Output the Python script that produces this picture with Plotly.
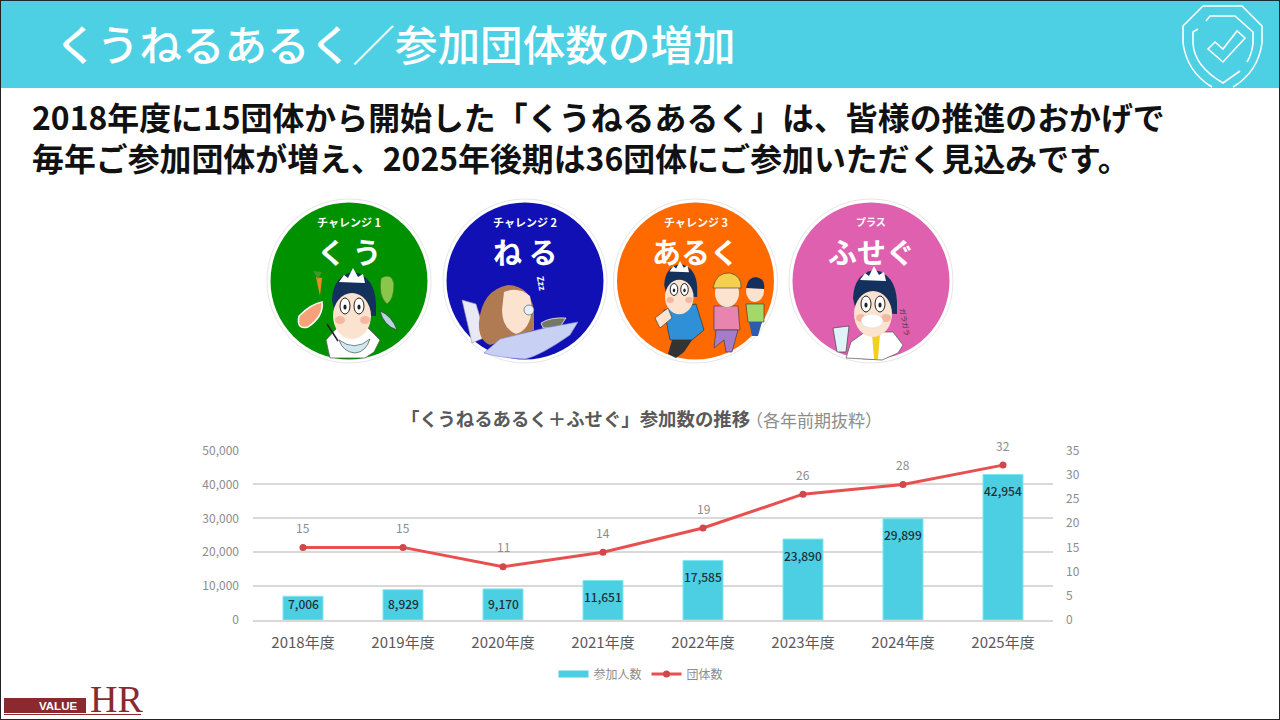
import re
import plotly.graph_objects as go

# ---------- data ----------
years = ["2018年度", "2019年度", "2020年度", "2021年度", "2022年度", "2023年度", "2024年度", "2025年度"]
participants = [7006, 8929, 9170, 11651, 17585, 23890, 29899, 42954]
groups = [15, 15, 11, 14, 19, 26, 28, 32]
left_ticks = [0, 10000, 20000, 30000, 40000, 50000]
right_ticks = [0, 5, 10, 15, 20, 25, 30, 35]

# ---------- style ----------
JP = "Noto Sans CJK JP"
W, H = 1280, 720
CYAN = "#4dcfe3"
RED = "#e8504f"
MARK = "#d0484a"
GRID = "#d9d9d9"
GREY = "#8c8c8c"
DARK = "#595959"
bar_label_drop = [7, 14, 15, 16, 16, 16, 16, 16]


def px(x):
    return x / W


def py(y):
    return 1 - y / H


def conv(path):
    toks = re.findall(r"[A-Za-z]|-?\d+\.?\d*", path)
    out, i = [], 0
    for t in toks:
        if t.isalpha():
            out.append(t)
            i = 0
        else:
            v = float(t)
            out.append(f"{px(v) if i % 2 == 0 else py(v):.5f}")
            i += 1
    return " ".join(out)


shapes = []
notes = []


def P(d, fill=None, line=None, w=1):
    s = dict(type="path", xref="paper", yref="paper", path=conv(d), layer="below",
             line=dict(color=line or "rgba(0,0,0,0)", width=w if line else 0))
    if fill:
        s["fillcolor"] = fill
    shapes.append(s)


def E(cx, cy, rx, ry, fill, line=None, w=1):
    shapes.append(dict(type="circle", xref="paper", yref="paper", layer="below",
                       x0=px(cx - rx), x1=px(cx + rx), y0=py(cy + ry), y1=py(cy - ry),
                       fillcolor=fill, line=dict(color=line or "rgba(0,0,0,0)", width=w if line else 0)))


def R(x0, y0, x1, y1, fill, line=None, w=1):
    shapes.append(dict(type="rect", xref="paper", yref="paper", layer="below",
                       x0=px(x0), x1=px(x1), y0=py(y1), y1=py(y0),
                       fillcolor=fill, line=dict(color=line or "rgba(0,0,0,0)", width=w if line else 0)))


def T(x, y, text, size, color, anchor="left", bold=False, font=JP, angle=0, weight=None, height=None, align=None):
    f = dict(family=font, size=size, color=color)
    if weight:
        f["weight"] = weight
    n = dict(xref="paper", yref="paper", x=px(x), y=py(y), xanchor=anchor, yanchor="middle",
             text=f"<b>{text}</b>" if bold else text, showarrow=False, textangle=angle, font=f)
    if height:
        n["height"] = height
    if align:
        n["align"] = align
    notes.append(n)


# header
R(0, 0, 1280, 88, "#4dd0e3")
T(53, 42, "くうねるあるく／参加団体数の増加", 42.6, "white", weight=500)
# shield
P("M1203 6 L1242 6 L1262 26 L1262 43 Q1258 72 1233 87", None, "white", 1.6)
P("M1203 6 L1183 26 L1183 43 Q1187 72 1212 87", None, "white", 1.6)
P("M1206 21 L1210 16 L1235 16 L1253 32 L1253 43 Q1252 54 1247 62", None, "white", 1.6)
P("M1198 29 L1193 32 L1193 43 Q1194 66 1223 83 L1240 71", None, "white", 1.6)
P("M1208 49 L1215 42 L1223 49 L1237 31 L1245 38 L1223 62 Z", None, "white", 1.6)

# body text
T(30, 136,
  "2018年度に15団体から開始した「くうねるあるく」は、皆様の推進のおかげで<br>"
  "毎年ご参加団体が増え、2025年後期は36団体にご参加いただく見込みです。",
  31.9, "#111111", bold=True, align="left")

# badges
SKIN = "#fbe3cf"
NAVY = "#14305c"
for cx, col in [(349, "#009100"), (525, "#1010b4"), (695.5, "#ff6a00"), (871, "#e060b0")]:
    E(cx, 281, 82, 82, "white", "#e6e6e6", 1)
    E(cx, 281, 78.5, 78.5, col)


def man(cx, cy, s=1.0):
    def q(dx, dy):
        return f"{cx + dx * s:.1f} {cy + dy * s:.1f}"
    P(f"M{q(-21,-8)} Q{q(-20,-32)} {q(0,-36)} Q{q(22,-32)} {q(23,-4)} L{q(23,8)} L{q(-18,6)} Z", NAVY)
    P(f"M{q(-14,-26)} L{q(-9,-33)} L{q(-5,-30)} L{q(0,-40)} L{q(5,-31)} L{q(10,-34)} L{q(12,-25)} Z", "white")
    E(cx - 1 * s, cy + 8 * s, 19 * s, 23 * s, SKIN)
    E(cx - 8 * s, cy - 2 * s, 5 * s, 8 * s, "white", "#222222", 1)
    E(cx + 6 * s, cy - 2 * s, 5 * s, 8 * s, "white", "#222222", 1)
    E(cx - 8 * s, cy - 1 * s, 1.6 * s, 2.5 * s, "#222222")
    E(cx + 6 * s, cy - 1 * s, 1.6 * s, 2.5 * s, "#222222")
    E(cx - 13 * s, cy + 12 * s, 5 * s, 4 * s, "#f6b7a0")
    E(cx + 12 * s, cy + 12 * s, 5 * s, 4 * s, "#f6b7a0")


# green badge: kuu
T(349, 222, "チャレンジ 1", 11, "white", "center", True)
T(349, 251, "く う", 29, "white", "center", True)
P("M330 358 L326 340 L337 328 L368 328 L380 340 L374 352 L365 358 Z", "white", "#555555", 0.7)
man(353, 308)
P("M316 277 L322 278 L320 296 Z", "#f08a24")
P("M313 271 L318 279 L322 272 Z", "#3a9a2a")
P("M381 278 Q392 272 394 284 Q394 300 387 304 Q378 296 381 278 Z", "#8ac64a", "#2f7d2a", 0.7)
P("M299 316 Q311 304 322 302 Q324 316 308 327 Q296 330 299 316 Z", "#f5a27a", "white", 1.5)
P("M380 311 Q392 316 397 330 Q384 326 380 311 Z", "#b8d5e3", "#333333", 0.6)
P("M339 340 Q355 352 370 339 Q366 352 355 353 Q343 352 339 340 Z", "#cfe8f0", "#333333", 0.6)
P("M327 324 L338 341", None, "#222222", 1.5)

# blue badge: neru
T(525, 222, "チャレンジ 2", 11, "white", "center", True)
T(525, 251, "ね る", 29, "white", "center", True)
P("M462 300 L476 304 L486 337 L472 343 Z", "#e8e8f6", "#999999", 0.6)
P("M479 322 Q482 290 508 285 Q530 286 534 310 L534 330 L490 345 Q478 340 479 322 Z", "#b07a52")
P("M504 292 Q518 286 530 296 L532 309 Q530 330 516 334 Q502 328 502 310 Z", SKIN)
T(541, 283, "Zzz", 9, "white", "center", True, angle=80)
E(529, 310, 5, 5, "#e8f0f8", "#444444", 0.6)
P("M541 323 Q550 317 566 318 L560 327 L543 328 Z", "#777766", "white", 0.7)
P("M484 353 L500 339 L545 328 L578 322 L570 335 Q540 356 525 359 Q500 358 484 353 Z", "#c8d0f4", "#7c88d8", 0.6)

# orange badge: aruku
T(695.5, 222, "チャレンジ 3", 11, "white", "center", True)
T(695.5, 251, "あるく", 29, "white", "center", True)
P("M664 310 L696 304 L704 330 L692 340 L670 340 Z", "#2f90d8", "#222222", 0.6)
P("M672 340 L692 340 L684 352 L676 358 L668 354 Z", "#333333")
P("M655 318 L668 308 L672 318 L660 328 Z", SKIN, "#333333", 0.6)
man(680, 291, 0.75)
P("M714 306 L738 306 L740 330 L714 330 Z", "#e884ad", "#333333", 0.6)
P("M716 330 L738 330 L732 352 L726 352 L724 340 L714 348 Z", "#a47cc8", "#333333", 0.6)
E(727, 293, 12, 14, SKIN)
P("M713 288 Q716 272 730 273 Q742 276 741 288 Z", "#f4d04e", "#333333", 0.6)
P("M746 304 L764 304 L764 322 L748 322 Z", "#a4d868", "#333333", 0.6)
P("M749 322 L762 322 L758 336 L752 336 Z", "#2c5db0")
E(755, 291, 9, 11, SKIN)
P("M746 288 Q748 277 756 277 Q766 279 764 289 Z", NAVY)

# pink badge: fuseg
T(871, 221, "プラス", 10, "white", "center", True)
T(871, 251, "ふせぐ", 29, "white", "center", True)
P("M846 358 L851 342 L865 332 L893 332 L903 345 L898 353 L882 360 Z", "white", "#555555", 0.7)
P("M872 334 L880 334 L878 359 L874 359 Z", "#f0d020")
man(874, 306)
E(872, 321, 11, 7, "white", "#dddddd", 0.7)
P("M833 328 L849 326 L846 352 L837 352 Z", "#dff3f8", "#444444", 0.7)
T(905, 322, "ガラガラ", 7, "#333333", "center", angle=80)

# chart titles
T(575, 418, "「くうねるあるく＋ふせぐ」参加数の推移", 18.4, DARK, "center", True)
T(814, 419, "（各年前期抜粋）", 17, GREY, "center")

# logo
R(4, 698, 86, 713, "#8b2a2e")
T(79, 706, "VALUE", 11.5, "white", "right", True, font="Liberation Sans")
T(88, 699, "HR", 38, "#8b2a2e", font="Liberation Serif", height=40)
P("M4 714.5 L141 714.5", None, "#8b2a2e", 1)

# frame
P("M0 0 L1280 0", None, "#1a2a30", 2)
P("M0 0 L0 720", None, "#222222", 2)
P("M1280 0 L1280 720", None, "#222222", 2)
P("M0 720 L1280 720", None, "#222222", 2)

# ---------- chart ----------
fig = go.Figure()
fig.add_trace(go.Bar(x=years, y=participants, name="参加人数", width=0.4, showlegend=False,
                     marker=dict(color=CYAN, line=dict(color="#7fe6ee", width=1)), yaxis="y"))
fig.add_trace(go.Scatter(x=[None], y=[None], name="参加人数", mode="lines", yaxis="y",
                         line=dict(color=CYAN, width=7)))
fig.add_trace(go.Scatter(x=years, y=groups, name="団体数", mode="lines+markers", yaxis="y2",
                         line=dict(color=RED, width=3), marker=dict(color=MARK, size=7)))

for yr, v, d in zip(years, participants, bar_label_drop):
    notes.append(dict(x=yr, y=v, xref="x", yref="y", text=f"{v:,}", showarrow=False, yshift=-d,
                      yanchor="middle", font=dict(family=JP, size=12, color="#1f2f33", weight=500)))
for yr, v in zip(years, groups):
    notes.append(dict(x=yr, y=v, xref="x", yref="y2", text=str(v), showarrow=False, yshift=20,
                      yanchor="middle", font=dict(family=JP, size=12, color=GREY)))

fig.update_layout(
    width=W, height=H, margin=dict(l=0, r=0, t=0, b=0, pad=0, autoexpand=False),
    paper_bgcolor="white", plot_bgcolor="rgba(0,0,0,0)",
    font=dict(family=JP), shapes=shapes, annotations=notes, bargap=0.6,
    xaxis=dict(domain=[px(253), px(1053)], anchor="y", tickfont=dict(family=JP, size=15, color=DARK),
               ticks="", showgrid=False, showline=True, linecolor=GRID, linewidth=1.5, automargin=False,
               ticklabelstandoff=8, categoryorder="array", categoryarray=years),
    yaxis=dict(domain=[py(620), py(450.6)], range=[0, 50000], tickvals=left_ticks, tickformat=",",
               tickfont=dict(family=JP, size=12, color=GREY), gridcolor=GRID, gridwidth=1.5, automargin=False,
               zeroline=False, ticks="", ticklabelstandoff=13),
    yaxis2=dict(domain=[py(620), py(450.6)], range=[0, 35], tickvals=right_ticks, overlaying="y", side="right",
                anchor="x", tickfont=dict(family=JP, size=12, color=GREY), showgrid=False, zeroline=False,
                ticks="", ticklabelstandoff=12, automargin=False),
    legend=dict(orientation="h", x=px(641), xanchor="center", y=py(674), yanchor="middle",
                font=dict(family=JP, size=12, color=GREY), itemwidth=30, bgcolor="rgba(0,0,0,0)",
                traceorder="normal"),
)
fig.write_html(
    "out.html",
    config=dict(displayModeBar=False),
    post_script="document.body.style.margin='0';document.body.style.overflow='hidden';",
)
